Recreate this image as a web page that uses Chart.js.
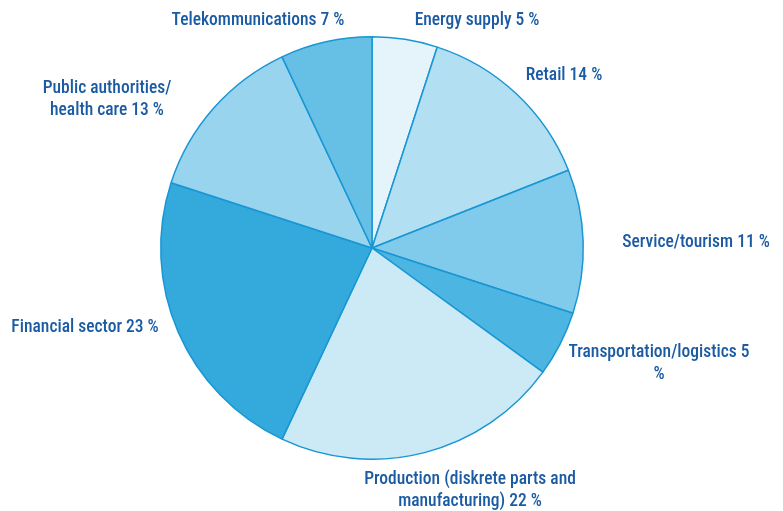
<!DOCTYPE html>
<html>
<head>
<meta charset="utf-8">
<script src="https://cdn.jsdelivr.net/npm/chart.js@4"></script>
<style>
  html, body { margin: 0; padding: 0; background: #fff; }
  #wrap { width: 783px; height: 511px; }
</style>
</head>
<body>
<div id="wrap"><canvas id="chartPie"></canvas></div>
<script>
// ===== DATA =====
const sectors = [
  'Energy supply', 'Retail', 'Service/tourism', 'Transportation/logistics',
  'Production (diskrete parts and manufacturing)', 'Financial sector',
  'Public authorities/ health care', 'Telekommunications'
];
const shares = [5, 14, 11, 5, 22, 23, 13, 7];
const sliceColors = ['#e5f4fb', '#b2dff2', '#80cbeb', '#4db5e1', '#cceaf6', '#33a9dc', '#99d4ee', '#66c0e6'];

// label layout: text lines ({v} = value) and centre position of first line
const labelLayout = [
  { lines: ['Energy supply {v} %'],                       x: 477, y: 21 },
  { lines: ['Retail {v} %'],                              x: 564, y: 76 },
  { lines: ['Service/tourism {v} %'],                     x: 696, y: 243 },
  { lines: ['Transportation/logistics {v}', '%'],         x: 659, y: 353 },
  { lines: ['Production (diskrete parts and', 'manufacturing) {v} %'], x: 470, y: 480 },
  { lines: ['Financial sector {v} %'],                    x: 85,  y: 328 },
  { lines: ['Public authorities/', 'health care {v} %'],  x: 107, y: 89 },
  { lines: ['Telekommunications {v} %'],                  x: 258, y: 21 },
];

const FONT = '500 17.5px "Roboto Condensed", "Liberation Sans Narrow", Roboto, sans-serif';

// ===== LABEL PLUGIN =====
const sliceLabels = {
  id: 'sliceLabels',
  afterDraw(chart) {
    const ctx = chart.ctx;
    const vals = chart.data.datasets[0].data;
    ctx.save();
    ctx.font = FONT;
    ctx.fillStyle = '#1b5ba3';
    ctx.textAlign = 'center';
    ctx.textBaseline = 'middle';
    labelLayout.forEach((lab, i) => {
      lab.lines.forEach((ln, k) => {
        ctx.fillText(ln.replace('{v}', vals[i]), lab.x, lab.y + k * 22);
      });
    });
    ctx.restore();
  }
};

// ===== CHART =====
const ctxPie = document.getElementById('chartPie').getContext('2d');
new Chart(ctxPie, {
  type: 'pie',
  data: {
    labels: sectors,
    datasets: [{
      data: shares,
      backgroundColor: sliceColors,
      borderColor: '#1996d4',
      borderWidth: 1.5,
    }],
  },
  options: {
    responsive: true,
    maintainAspectRatio: false,
    animation: false,
    layout: { padding: { left: 160, right: 199, top: 36, bottom: 51 } },
    plugins: {
      legend: { display: false },
      tooltip: { enabled: false },
    },
  },
  plugins: [sliceLabels],
});
</script>
</body>
</html>
